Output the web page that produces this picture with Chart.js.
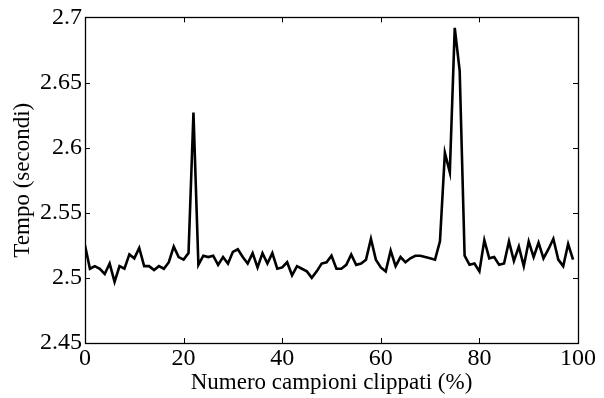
<!DOCTYPE html>
<html>
<head>
<meta charset="utf-8">
<script src="https://cdn.jsdelivr.net/npm/chart.js@4.4.1/dist/chart.umd.min.js"></script>
<style>
    html, body { margin: 0; padding: 0; background: #fff; }
</style>
</head>
<body>
<canvas id="graficoTempi" width="604" height="398"></canvas>
<script>
const campioniClippati = [
    0, 1, 2, 3, 4, 5, 6, 7, 8, 9, 10, 11, 12, 13, 14, 15, 16, 17, 18, 19,
    20, 21, 22, 23, 24, 25, 26, 27, 28, 29, 30, 31, 32, 33, 34, 35, 36, 37, 38, 39,
    40, 41, 42, 43, 44, 45, 46, 47, 48, 49, 50, 51, 52, 53, 54, 55, 56, 57, 58, 59,
    60, 61, 62, 63, 64, 65, 66, 67, 68, 69, 70, 71, 72, 73, 74, 75, 76, 77, 78, 79,
    80, 81, 82, 83, 84, 85, 86, 87, 88, 89, 90, 91, 92, 93, 94, 95, 96, 97, 98, 99
];
const tempoSecondi = [
    2.525, 2.507, 2.509, 2.507, 2.503, 2.511, 2.497, 2.509, 2.507, 2.518,
    2.515, 2.523, 2.509, 2.509, 2.506, 2.509, 2.507, 2.512, 2.524, 2.516,
    2.514, 2.519, 2.627, 2.510, 2.517, 2.516, 2.517, 2.510, 2.516, 2.511,
    2.520, 2.522, 2.516, 2.511, 2.519, 2.508, 2.519, 2.511, 2.519, 2.507,
    2.508, 2.512, 2.502, 2.509, 2.507, 2.505, 2.500, 2.505, 2.511, 2.512,
    2.517, 2.507, 2.507, 2.510, 2.518, 2.510, 2.511, 2.514, 2.530, 2.514,
    2.508, 2.505, 2.521, 2.509, 2.516, 2.512, 2.515, 2.517, 2.517, 2.516,
    2.515, 2.514, 2.528, 2.596, 2.581, 2.692, 2.659, 2.517, 2.510, 2.511,
    2.505, 2.529, 2.515, 2.516, 2.510, 2.511, 2.528, 2.513, 2.524, 2.509,
    2.528, 2.516, 2.527, 2.515, 2.522, 2.530, 2.514, 2.509, 2.526, 2.514
];
const ticksX = [0, 20, 40, 60, 80, 100];
const ticksY = [2.45, 2.5, 2.55, 2.6, 2.65, 2.7];

const fuente = "'Liberation Serif', 'Times New Roman', serif";

// box + ticks verso l'interno, stile MATLAB
const marcoMatlab = {
    id: 'marcoMatlab',
    afterDraw(chart) {
        const ctx = chart.ctx;
        const area = chart.chartArea;
        const largo = 5;
        ctx.save();
        ctx.strokeStyle = '#000';
        ctx.lineWidth = 1;
        ctx.beginPath();
        chart.scales.x.ticks.forEach(t => {
            const px = Math.round(chart.scales.x.getPixelForValue(t.value)) + 0.5;
            ctx.moveTo(px, area.bottom);
            ctx.lineTo(px, area.bottom - largo);
            ctx.moveTo(px, area.top);
            ctx.lineTo(px, area.top + largo);
        });
        chart.scales.y.ticks.forEach(t => {
            const py = Math.round(chart.scales.y.getPixelForValue(t.value)) + 0.5;
            ctx.moveTo(area.left, py);
            ctx.lineTo(area.left + largo, py);
            ctx.moveTo(area.right, py);
            ctx.lineTo(area.right - largo, py);
        });
        ctx.stroke();
        ctx.lineWidth = 1.3;
        ctx.strokeRect(Math.round(area.left) + 0.5, Math.round(area.top) + 0.5,
            Math.round(area.right - area.left), Math.round(area.bottom - area.top));
        ctx.restore();
    }
};

const ctx = document.getElementById('graficoTempi').getContext('2d');
new Chart(ctx, {
    type: 'line',
    data: {
        labels: campioniClippati,
        datasets: [{
            data: campioniClippati.map((c, i) => ({x: c, y: tempoSecondi[i]})),
            borderColor: '#000',
            borderWidth: 2.6,
            pointRadius: 0,
            tension: 0,
            fill: false
        }]
    },
    options: {
        responsive: false,
        animation: false,
        devicePixelRatio: 1,
        layout: {padding: {top: 15, right: 26, left: 0, bottom: 0}},
        plugins: {
            legend: {display: false},
            tooltip: {enabled: false}
        },
        scales: {
            x: {
                type: 'linear',
                min: 0,
                max: 100,
                afterBuildTicks: scale => { scale.ticks = ticksX.map(v => ({value: v})); },
                afterFit: scale => { scale.height = 55; },
                grid: {display: false, drawTicks: false},
                border: {display: false},
                ticks: {
                    color: '#000',
                    padding: 1,
                    maxRotation: 0,
                    font: {family: fuente, size: 24},
                    callback: v => v
                },
                title: {
                    display: true,
                    text: 'Numero campioni clippati (%)',
                    color: '#000',
                    padding: {top: 0, bottom: 1},
                    font: {family: fuente, size: 23}
                }
            },
            y: {
                min: 2.45,
                max: 2.7,
                afterBuildTicks: scale => { scale.ticks = ticksY.map(v => ({value: v})); },
                afterFit: scale => { scale.width = 85; },
                grid: {display: false, drawTicks: false},
                border: {display: false},
                ticks: {
                    color: '#000',
                    padding: 3,
                    font: {family: fuente, size: 24},
                    callback: v => String(Number(v.toFixed(2)))
                },
                title: {
                    display: true,
                    text: 'Tempo (secondi)',
                    color: '#000',
                    padding: {top: 9, bottom: 9},
                    font: {family: fuente, size: 23}
                }
            }
        }
    },
    plugins: [marcoMatlab]
});
</script>
</body>
</html>
